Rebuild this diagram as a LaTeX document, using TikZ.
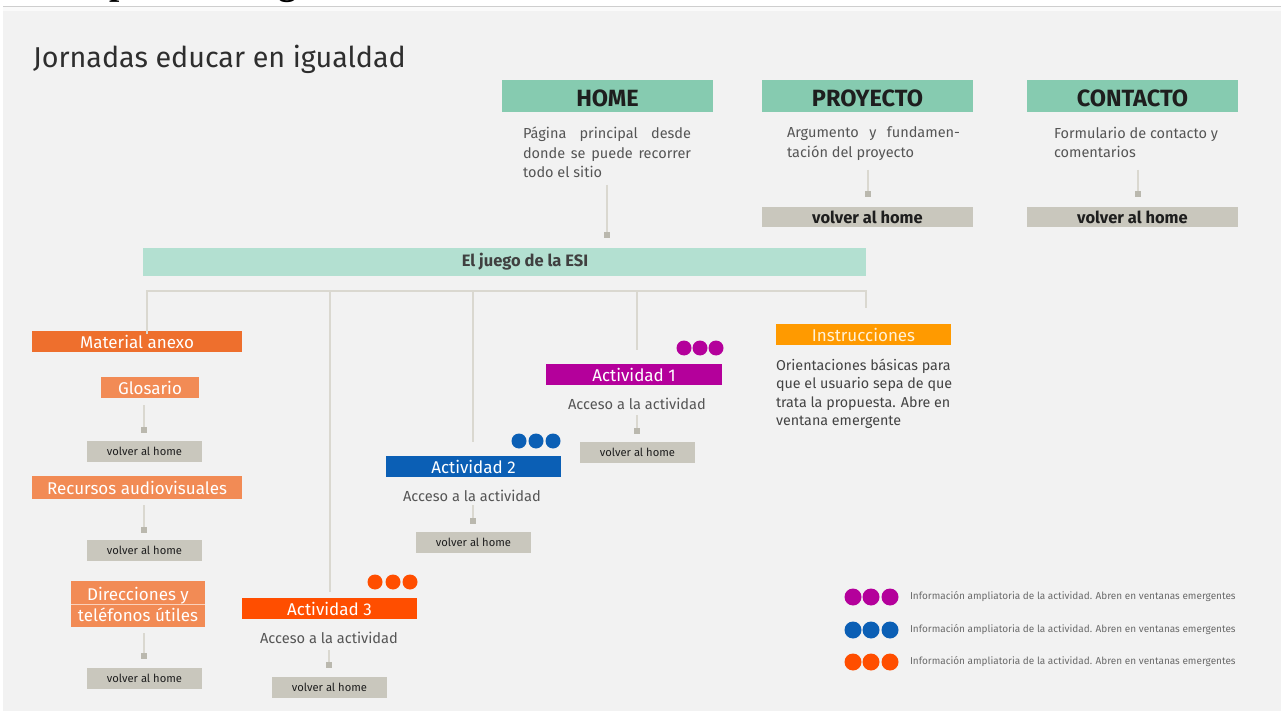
\documentclass[tikz,border=0pt]{standalone}
\usepackage{fontspec}
\setmainfont{Fira Sans}
\newfontfamily\headfont{Liberation Serif}
\definecolor{panel}{HTML}{F2F2F2}
\definecolor{mintA}{HTML}{86CBB0}
\definecolor{mintB}{HTML}{B3E0D1}
\definecolor{volc}{HTML}{C9C7BD}
\definecolor{linec}{HTML}{DAD8D0}
\definecolor{sqc}{HTML}{BAB8AE}
\definecolor{orA}{HTML}{EE6F2D}
\definecolor{orB}{HTML}{F28B55}
\definecolor{act3}{HTML}{FF4E00}
\definecolor{act2}{HTML}{0B5FB5}
\definecolor{act1}{HTML}{B4009B}
\definecolor{instr}{HTML}{FF9A00}
\definecolor{instrt}{HTML}{FFF1D6}
\definecolor{titc}{HTML}{2E2E2E}
\definecolor{descc}{HTML}{555555}
\definecolor{darkt}{HTML}{1E1E1E}
\definecolor{legc}{HTML}{6A6A6A}
\begin{document}
\begin{tikzpicture}[x=1pt,y=-1pt,
  every node/.style={inner sep=0pt,outer sep=0pt},
  topbox/.style={fill=mintA,minimum width=211,minimum height=32,text height=21,text depth=0,text=darkt,font=\fontsize{23.5}{26}\selectfont\bfseries,anchor=north west},
  desc/.style={text=descc,font=\fontsize{14.5}{19.5}\selectfont,anchor=north west},
  volbig/.style={fill=volc,minimum width=211,minimum height=20,text=darkt,font=\fontsize{16.5}{18}\selectfont\bfseries,anchor=north west},
  volsm/.style={fill=volc,minimum width=115,minimum height=21,text=darkt,font=\fontsize{11.2}{12}\selectfont,anchor=north west},
  sq/.style={fill=sqc,minimum size=6},
  stub/.style={draw=linec,line width=1.2},
  tree/.style={draw=linec,line width=1.6},
  catbox/.style={text=white,font=\fontsize{17}{19}\selectfont,anchor=north west,minimum height=21},
  dot/.style={circle,minimum size=15},
  ldot/.style={circle,minimum size=17},
  acc/.style={text=descc,font=\fontsize{14.6}{16}\selectfont},
  legtxt/.style={text=legc,font=\fontsize{10}{11}\selectfont,anchor=west},
]
\useasboundingbox (0,0) rectangle (1285,711);
\clip (0,0) rectangle (1285,711);
\fill[white] (0,0) rectangle (1285,711);
\fill[panel] (3,6) rectangle (1281,711);
\fill[panel!40!white] (3,6) rectangle (1281,11);
\draw[panel!85!black,line width=0.6] (3,6.3) -- (1281,6.3);
% clipped heading above the panel
\node[anchor=base west,font={\headfont\bfseries\fontsize{37}{40}\selectfont}] (hd) at (56,-5) {Mapa de navegación};
% title
\node[anchor=base west,text=titc,font=\fontsize{28.7}{31}\selectfont] (title) at (33,68) {Jornadas educar en igualdad};
% top boxes
\node[topbox] (home) at (502,80) {HOME};
\node[topbox] (proy) at (762,80) {PROYECTO};
\node[topbox] (cont) at (1027,80) {CONTACTO};
\node[desc,text width=168,align=justify] (homed) at (523,127) {Página principal desde\linebreak donde se puede recorrer\linebreak todo el sitio};
\node[desc,text width=173,align=justify] (proyd) at (787,127) {Argumento y fundamen-\linebreak tación del proyecto};
\node[desc,align=left] (contd) at (1054,127) {Formulario de contacto y\\comentarios};
\coordinate (hs1) at (607,185);
\node[sq] (hsq) at (607,235) {};
\draw[stub] (hs1) -- (hsq);
\coordinate (ps1) at (868,170);
\node[sq] (psq) at (868,194) {};
\draw[stub] (ps1) -- (psq);
\coordinate (cs1) at (1138,170);
\node[sq] (csq) at (1138,194) {};
\draw[stub] (cs1) -- (csq);
\node[volbig] (pv) at (762,207) {volver al home};
\node[volbig] (cv) at (1027,207) {volver al home};
% ESI bar
\node[fill=mintB,minimum width=723,minimum height=28,anchor=north west] (esi) at (143,248) {};
\node[font=\fontsize{16.5}{18}\selectfont\bfseries,text=darkt!85!white] (esit) at (525,262) {El juego de la ESI};
% tree
\coordinate (b0) at (147,291);
\coordinate (b1) at (330,291);
\coordinate (b2) at (473,291);
\coordinate (b3) at (637,291);
\coordinate (b4) at (866,291);
\coordinate (e1) at (330,592);
\coordinate (e2) at (473,442);
\coordinate (e3) at (637,350);
\coordinate (e4) at (866,308);
% left column
\node[catbox,fill=orA,minimum width=210] (ma) at (32,331) {Material anexo};
\draw[tree] ([yshift=-3pt]b0 |- ma.north) -- (b0) -- (b4) -- (e4);
\draw[tree] (b1) -- (e1);
\draw[tree] (b2) -- (e2);
\draw[tree] (b3) -- (e3);
\node[catbox,fill=orB,minimum width=98] (glo) at (101,377) {Glosario};
\coordinate (gs1) at (144,405);
\node[sq] (gsq) at (144,430) {};
\draw[stub] (gs1) -- (gsq);
\node[volsm] (v1) at (87,441) {volver al home};
\node[catbox,fill=orB,minimum width=210,minimum height=23] (rec) at (32,476) {Recursos audiovisuales};
\coordinate (rs1) at (144,505);
\node[sq] (rsq) at (144,530) {};
\draw[stub] (rs1) -- (rsq);
\node[volsm] (v2) at (87,540) {volver al home};
\node[catbox,fill=orB,minimum width=134,minimum height=46,align=center,font=\fontsize{17}{21}\selectfont] (dir) at (71,581) {Direcciones y\\teléfonos útiles};
\draw[white!60!orB,line width=1] (dir.west) -- (dir.east);
\coordinate (ds1) at (144,633);
\node[sq] (dsq) at (144,656) {};
\draw[stub] (ds1) -- (dsq);
\node[volsm] (v3) at (87,668) {volver al home};
% Actividad 3
\node[catbox,fill=act3,minimum width=175] (a3) at (242,598) {Actividad 3};
\node[dot,fill=act3] (a3d1) at (375,582) {};
\node[dot,fill=act3] (a3d2) at (393,582) {};
\node[dot,fill=act3] (a3d3) at (410,582) {};
\node[acc] (acc3) at (329,638) {Acceso a la actividad};
\coordinate (a3s) at (329,650);
\node[sq] (a3sq) at (329,665) {};
\draw[stub] (a3s) -- (a3sq);
\node[volsm] (v4) at (272,677) {volver al home};
% Actividad 2
\node[catbox,fill=act2,minimum width=175] (a2) at (386,456) {Actividad 2};
\node[dot,fill=act2] (a2d1) at (519,441) {};
\node[dot,fill=act2] (a2d2) at (536,441) {};
\node[dot,fill=act2] (a2d3) at (553,441) {};
\node[acc] (acc2) at (472,496) {Acceso a la actividad};
\coordinate (a2s) at (473,505);
\node[sq] (a2sq) at (473,521) {};
\draw[stub] (a2s) -- (a2sq);
\node[volsm] (v5) at (416,532) {volver al home};
% Actividad 1
\node[catbox,fill=act1,minimum width=176] (a1) at (546,364) {Actividad 1};
\node[dot,fill=act1] (a1d1) at (684,348) {};
\node[dot,fill=act1] (a1d2) at (700,348) {};
\node[dot,fill=act1] (a1d3) at (716,348) {};
\node[acc] (acc1) at (637,404) {Acceso a la actividad};
\coordinate (a1s) at (637,415);
\node[sq] (a1sq) at (637,431) {};
\draw[stub] (a1s) -- (a1sq);
\node[volsm] (v6) at (580,442) {volver al home};
% Instrucciones
\node[catbox,fill=instr,text=instrt,minimum width=175] (ins) at (776,324) {Instrucciones};
\node[desc,text=titc!90!white,font=\fontsize{14.3}{18.5}\selectfont,align=left] (insd) at (776,359) {Orientaciones básicas para\\que el usuario sepa de que\\trata la propuesta. Abre en\\ventana emergente};
% legend
\node[ldot,fill=act1] (l1a) at (853,597) {};
\node[ldot,fill=act1] (l1b) at (871,597) {};
\node[ldot,fill=act1] (l1c) at (890,597) {};
\node[legtxt] (l1t) at (910,597) {Información ampliatoria de la actividad. Abren en ventanas emergentes};
\node[ldot,fill=act2] (l2a) at (853,630) {};
\node[ldot,fill=act2] (l2b) at (871,630) {};
\node[ldot,fill=act2] (l2c) at (890,630) {};
\node[legtxt] (l2t) at (910,630) {Información ampliatoria de la actividad. Abren en ventanas emergentes};
\node[ldot,fill=act3] (l3a) at (853,662) {};
\node[ldot,fill=act3] (l3b) at (871,662) {};
\node[ldot,fill=act3] (l3c) at (890,662) {};
\node[legtxt] (l3t) at (910,662) {Información ampliatoria de la actividad. Abren en ventanas emergentes};
\end{tikzpicture}
\end{document}
